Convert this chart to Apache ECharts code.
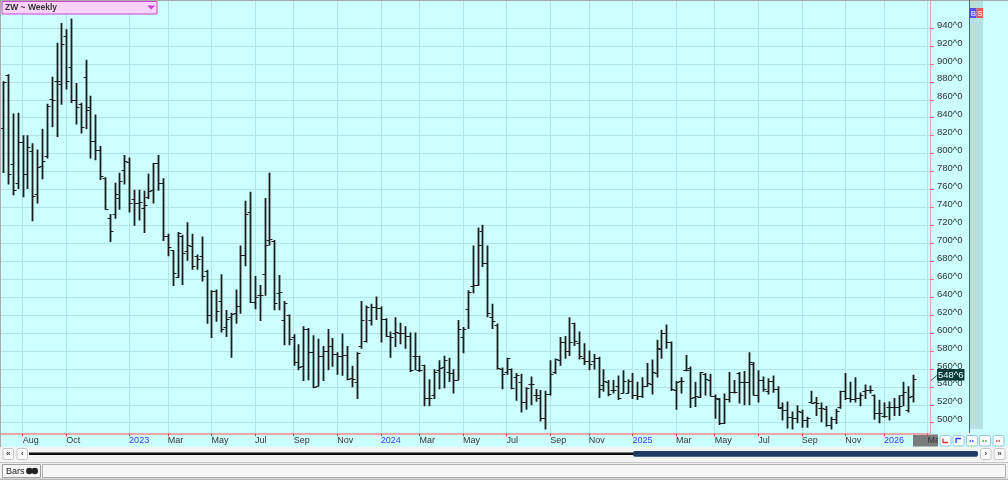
<!DOCTYPE html>
<html><head><meta charset="utf-8">
<script src="https://cdn.jsdelivr.net/npm/echarts@6/dist/echarts.min.js"></script>
<style>html,body{margin:0;padding:0;background:#ccffff;}#c{width:1008px;height:480px;}</style>
</head><body><div id="c"></div>
<script>
// ---- data ----
const firstWeek = [2022, 6, 8];   // first weekly bar (Friday 2022-07-08)
const weekCount = 192;            // 189 bars + 3 empty weeks to the right edge
const openVals = [
829,888,788,767,813,777,803,755,786,797,
861,881,878,931,896,860,855,885,852,814,
804,773,728,733,750,782,791,749,745,739,
752,759,789,767,708,692,662,708,691,697,
686,686,669,620,647,636,607,618,622,630,
687,735,635,642,666,704,703,645,614,620,
595,568,563,605,579,541,574,580,586,577,
574,575,550,545,585,591,615,629,628,616,
597,600,600,600,597,574,559,564,527,531,
559,562,556,555,548,596,627,652,653,714,
678,618,609,560,557,560,551,545,523,543,
531,528,505,532,556,570,590,580,611,589,
572,569,569,572,542,545,537,541,533,533,
547,531,530,541,543,555,582,600,590,537,
546,559,561,529,529,554,548,530,526,500,
526,534,555,545,545,566,531,548,535,546,
538,517,514,506,505,512,503,523,523,516,
515,497,504,517,535,528,526,527,535,537,
531,511,508,518,518,518,531,514,530];
const highVals = [
880,888,844,845,820,820,811,804,827,855,
885,923,945,938,950,878,856,904,864,843,
808,773,732,767,778,798,795,759,759,758,
777,789,798,772,710,692,712,709,723,710,
687,707,670,647,648,665,625,622,648,697,
747,757,663,653,750,778,703,664,635,620,
598,587,607,605,597,593,585,604,594,578,
599,585,563,578,635,630,632,640,629,616,
601,617,611,607,600,600,574,564,548,559,
569,574,572,559,614,606,647,697,717,720,
697,632,610,561,572,560,555,554,539,551,
537,536,535,569,571,595,596,617,611,601,
588,580,576,573,559,547,547,552,558,548,
555,545,550,566,570,592,603,609,590,546,
550,575,562,545,556,555,554,531,527,532,
556,547,556,557,578,567,558,551,549,552,
540,522,523,512,519,514,506,535,528,522,
518,506,515,535,555,545,550,533,542,541,
531,525,522,523,527,530,545,540,553];
const lowVals = [
779,766,754,761,752,761,725,745,772,795,
830,819,855,872,857,833,823,828,795,793,
771,738,702,728,738,766,735,720,726,712,
750,745,759,703,686,653,662,654,681,671,
671,658,611,595,613,601,596,573,611,622,
675,634,627,614,642,698,626,626,587,587,
564,559,547,548,539,541,547,559,563,554,
553,548,540,527,583,590,609,615,590,596,
573,585,588,583,557,559,557,519,519,527,
538,539,546,533,548,578,605,645,653,674,
618,605,560,538,554,538,525,512,515,520,
524,502,493,531,555,564,572,575,586,571,
565,559,560,528,535,530,533,526,533,533,
527,526,528,541,532,551,572,583,536,515,
533,558,517,518,528,531,530,505,498,499,
523,533,522,520,520,531,523,535,532,534,
516,503,494,493,500,495,495,522,508,501,
496,493,499,516,526,523,523,519,527,533,
504,500,506,503,508,508,519,512,523];
const closeVals = [
880,777,759,813,777,807,753,785,792,853,
860,881,922,881,860,852,830,849,814,804,
775,738,714,755,770,792,745,745,746,743,
758,789,767,708,696,667,711,689,698,675,
683,663,620,647,624,605,616,621,630,687,
733,635,640,642,698,705,633,646,634,593,
568,562,605,579,540,574,580,586,577,574,
575,549,549,578,615,629,629,628,616,597,
595,601,600,597,559,574,559,527,527,556,
561,570,555,548,604,605,646,653,698,678,
622,613,561,554,572,539,553,523,539,543,
531,505,532,554,571,590,580,590,591,574,
569,565,572,538,546,532,536,528,547,547,
531,530,541,544,556,583,600,590,538,545,
547,559,528,530,556,549,530,528,500,526,
534,534,545,545,568,531,548,538,546,538,
516,514,506,505,513,503,505,522,522,516,
497,504,513,535,528,526,527,531,537,537,
511,511,508,518,518,519,534,529,548.75];
const tickMonths = ['2022-08','2022-10','2023-01','2023-03','2023-05','2023-07','2023-09','2023-11',
  '2024-01','2024-03','2024-05','2024-07','2024-09','2024-11','2025-01','2025-03','2025-05','2025-07',
  '2025-09','2025-11','2026-01','2026-03'];
const tickTexts = ['Aug','Oct','2023','Mar','May','Jul','Sep','Nov','2024','Mar','May','Jul','Sep','Nov',
  '2025','Mar','May','Jul','Sep','Nov','2026','Mar'];
const yTickValues = [500,520,540,560,580,600,620,640,660,680,700,720,740,760,780,800,820,840,860,880,900,920,940];
const chartTitle = 'ZW ~ Weekly';
const lastPriceText = '548^6';

// ---- build ----
const categories = [];
const t0 = Date.UTC(firstWeek[0], firstWeek[1], firstWeek[2]);
for (let i = 0; i < weekCount; i++) categories.push(new Date(t0 + i * 7 * 86400000).toISOString().slice(0, 10));
const tickIndex = {};
tickMonths.forEach((m, j) => {
  const idx = categories.findIndex(c => c.slice(0, 7) === m);
  if (idx >= 0) tickIndex[idx] = tickTexts[j];
});
const isTick = (i) => tickIndex.hasOwnProperty(i);
const ohlc = openVals.map((o, i) => [i, o, highVals[i], lowVals[i], closeVals[i]]);

const font = 'Liberation Sans, Arial, sans-serif';
const chart = echarts.init(document.getElementById('c'), null, {renderer: 'canvas'});

function renderItem(params, api) {
  const i = api.value(0);
  const o = api.coord([i, api.value(1)]);
  const h = api.coord([i, api.value(2)]);
  const l = api.coord([i, api.value(3)]);
  const c = api.coord([i, api.value(4)]);
  const x = Math.round(h[0]) + 0.5;
  const col = '#1d1d1d';
  return {type: 'group', children: [
    {type: 'line', shape: {x1: x, y1: h[1] - 0.5, x2: x, y2: l[1] + 0.5}, style: {stroke: col, lineWidth: 1.8}},
    {type: 'line', shape: {x1: x - 3, y1: Math.round(o[1]) + 0.5, x2: x, y2: Math.round(o[1]) + 0.5}, style: {stroke: col, lineWidth: 1.2}},
    {type: 'line', shape: {x1: x, y1: Math.round(c[1]) + 0.5, x2: x + 3, y2: Math.round(c[1]) + 0.5}, style: {stroke: col, lineWidth: 1.2}}
  ]};
}

const gridColor = '#b4e3e6';
chart.setOption({
  animation: false,
  backgroundColor: '#ccffff',
  grid: {left: 0.88, right: 78, top: 1, bottom: 46.7, containLabel: false},
  xAxis: {
    type: 'category', data: categories, boundaryGap: true,
    axisLine: {show: true, lineStyle: {color: '#eaa6aa', width: 2}},
    axisTick: {show: true, alignWithLabel: true, interval: (i) => isTick(i), length: 3, lineStyle: {color: '#e23b3b', width: 1}},
    axisLabel: {interval: (i) => isTick(i), align: 'left', margin: 3, fontSize: 9, fontFamily: font, color: '#333',
      formatter: (v, i) => { const t = tickIndex[i] || ''; return /^\d{4}$/.test(t) ? '{y|' + t + '}' : t; },
      rich: {y: {color: '#3838ff', fontSize: 9, fontFamily: font}}},
    splitLine: {show: false}
  },
  yAxis: {
    type: 'value', position: 'right', min: 488.2, max: 970.1, splitNumber: 24,
    axisLine: {show: true, lineStyle: {color: '#e8a6aa', width: 1}},
    axisTick: {show: true, length: 4, customValues: yTickValues, lineStyle: {color: '#e07b82'}},
    axisLabel: {customValues: yTickValues, formatter: (v) => v + '^0', color: '#333', fontSize: 9.5, fontFamily: font, margin: 7,
      verticalAlign: 'bottom', lineHeight: 6},
    splitLine: {show: false}
  },
  series: [
    {type: 'line', data: [], z: 1, silent: true,
      markLine: {silent: true, symbol: ['none', 'none'], label: {show: false}, animation: false,
        lineStyle: {color: gridColor, width: 1, type: 'solid'}, emphasis: {disabled: true},
        data: yTickValues.map(v => ({yAxis: v})).concat(Object.keys(tickIndex).map(k => ({xAxis: categories[+k]})))}},
    {type: 'custom', data: ohlc, renderItem: renderItem, encode: {x: 0, y: [1, 2, 3, 4]}, z: 5, silent: true, clip: true}
  ]
});

const lastY = chart.convertToPixel({yAxisIndex: 0}, closeVals[closeVals.length - 1]);

function btn(id, x, y, w, h, txt) {
  return [{type: 'rect', id: id, shape: {x: x, y: y, width: w, height: h, r: 2}, style: {fill: '#fbfbfb', stroke: '#c4c4c4', lineWidth: 1}, z: 20},
    {type: 'text', id: id + 't', x: x + w / 2, y: y + h / 2, style: {text: txt, fill: '#444', font: 'bold 8px ' + font, align: 'center', verticalAlign: 'middle'}, z: 21}];
}
const els = [];
// frame lines
els.push({type: 'rect', id: 'topb', shape: {x: 0, y: 0, width: 1008, height: 1}, style: {fill: '#a9a9a9'}, z: 30});
els.push({type: 'rect', id: 'leftb', shape: {x: 0, y: 0, width: 1, height: 447}, style: {fill: '#a9a9a9'}, z: 30});
// header
els.push({type: 'rect', id: 'hdr', shape: {x: 2, y: 1.5, width: 155, height: 12.5}, style: {fill: '#f9d3f9', stroke: '#cf45cf', lineWidth: 1}, z: 30});
els.push({type: 'text', id: 'hdrt', x: 5, y: 8, style: {text: chartTitle, fill: '#333', font: 'bold 8.5px ' + font, verticalAlign: 'middle'}, z: 31});
els.push({type: 'polygon', id: 'hdrtri', shape: {points: [[147.5, 5.5], [155, 5.5], [151.2, 9.5]]}, style: {fill: '#dd33dd'}, z: 31});
// right side strips
els.push({type: 'rect', id: 'redl', shape: {x: 969, y: 0, width: 1, height: 433}, style: {fill: '#e02a2a'}, z: 30});
els.push({type: 'rect', id: 'teal', shape: {x: 970, y: 1, width: 13, height: 428}, style: {fill: '#b7e1e1'}, z: 29});
els.push({type: 'rect', id: 'bbox', shape: {x: 970, y: 8, width: 6.5, height: 10}, style: {fill: '#4f4fff'}, z: 31});
els.push({type: 'text', id: 'bt', x: 973.3, y: 13.3, style: {text: 'B', fill: '#fff', font: '8px ' + font, align: 'center', verticalAlign: 'middle'}, z: 32});
els.push({type: 'rect', id: 'sbox', shape: {x: 976.5, y: 8, width: 6.5, height: 10}, style: {fill: '#ee5a5a'}, z: 31});
els.push({type: 'text', id: 'st', x: 979.8, y: 13.3, style: {text: 'S', fill: '#fff', font: '8px ' + font, align: 'center', verticalAlign: 'middle'}, z: 32});
// last price label
els.push({type: 'line', id: 'lpl', shape: {x1: 931, y1: lastY + 1.5, x2: 937.5, y2: lastY - 4}, style: {stroke: '#335555', lineWidth: 1}, z: 30});
els.push({type: 'rect', id: 'lpr', shape: {x: 937, y: lastY - 10, width: 27.5, height: 11.5}, style: {fill: '#0c3a3a'}, z: 31});
els.push({type: 'text', id: 'lpt', x: 950.7, y: lastY - 4.1, style: {text: lastPriceText, fill: '#e8ffff', font: '9.5px ' + font, align: 'center', verticalAlign: 'middle'}, z: 32});
// future box on time axis
els.push({type: 'rect', id: 'fut', shape: {x: 913, y: 434.5, width: 25, height: 12}, style: {fill: '#7b7b7b'}, z: -1});
// small buttons right of time axis
els.push({type: 'rect', id: 'btnbg', shape: {x: 938, y: 434.5, width: 70, height: 12.5}, style: {fill: '#ccffff'}, z: 19});
const bx = [940, 953, 966.5, 979.5, 993];
const gl = ['#e03030', '#2a3cff', '#2a3cff', '#22aa22', '#e03030'];
bx.forEach((x, i) => {
  els.push({type: 'rect', id: 'sb' + i, shape: {x: x, y: 435.5, width: 11, height: 10.5, r: 1.5}, style: {fill: '#f4fbfb', stroke: '#9cc6d0', lineWidth: 1}, z: 20});
  let sh;
  if (i === 0) sh = [[x + 3, 438.5], [x + 3, 442.5], [x + 8, 442.5]];
  else if (i === 1) sh = [[x + 3, 443], [x + 3, 438.5], [x + 8, 438.5]];
  else sh = [[x + 3, 441], [x + 8, 441]];
  els.push({type: 'polyline', id: 'sg' + i, shape: {points: sh}, style: {stroke: gl[i], lineWidth: 1.3, fill: null, lineDash: i >= 2 ? [1.5, 1] : null}, z: 21});
});
// scroll area
els.push({type: 'rect', id: 'scr', shape: {x: 0, y: 447, width: 1008, height: 15}, style: {fill: '#f3f3f3'}, z: 10});
els.push(...btn('b1', 3, 448.5, 10.5, 11, '«'));
els.push(...btn('b2', 17, 448.5, 10.5, 11, '‹'));
els.push({type: 'rect', id: 'blk', shape: {x: 29, y: 452.5, width: 606, height: 2.6}, style: {fill: '#0e0e0e'}, z: 20});
els.push({type: 'rect', id: 'nav', shape: {x: 633, y: 451, width: 345, height: 5.8, r: 2}, style: {fill: '#1f3a66'}, z: 21});
els.push(...btn('b3', 980.5, 448.5, 10.5, 11, '›'));
els.push(...btn('b4', 994, 448.5, 11, 11, '»'));
// status bar
els.push({type: 'rect', id: 'stat', shape: {x: 0, y: 462, width: 1008, height: 18}, style: {fill: '#efefef'}, z: 10});
els.push({type: 'rect', id: 'statl', shape: {x: 0, y: 462, width: 1008, height: 1}, style: {fill: '#c8c8c8'}, z: 11});
els.push({type: 'rect', id: 'tab', shape: {x: 2.5, y: 464.5, width: 38, height: 13}, style: {fill: '#f6f6f6', stroke: '#a0a0a0', lineWidth: 1}, z: 12});
els.push({type: 'text', id: 'tabt', x: 6, y: 471.3, style: {text: 'Bars', fill: '#222', font: '9px ' + font, verticalAlign: 'middle'}, z: 13});
els.push({type: 'circle', id: 'c1', shape: {cx: 29.3, cy: 471, r: 3.2}, style: {fill: '#222'}, z: 13});
els.push({type: 'circle', id: 'c2', shape: {cx: 34.8, cy: 471, r: 3.2}, style: {fill: '#222'}, z: 13});
els.push({type: 'rect', id: 'fld', shape: {x: 42.5, y: 464.5, width: 963, height: 13}, style: {fill: '#f6f6f6', stroke: '#b0b0b0', lineWidth: 1}, z: 12});
els.push({type: 'rect', id: 'botl', shape: {x: 0, y: 478.5, width: 1008, height: 1.5}, style: {fill: '#b8b8b8'}, z: 13});

chart.setOption({graphic: {elements: els}});
</script></body></html>
